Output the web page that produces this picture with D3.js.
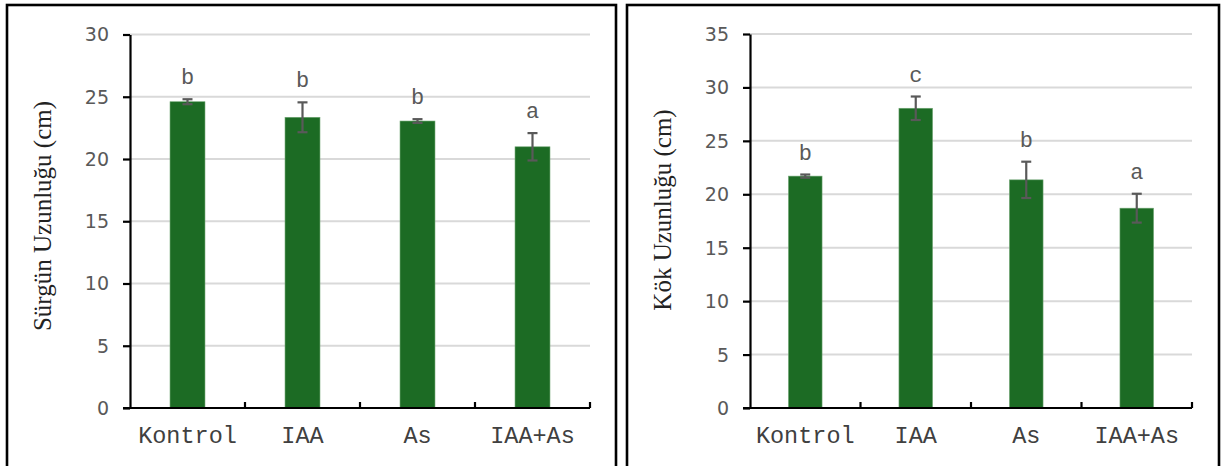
<!DOCTYPE html>
<html><head><meta charset="utf-8">
<script src="https://cdn.jsdelivr.net/npm/d3@7/dist/d3.min.js"></script>
<style>body{margin:0;background:#fff}svg{display:block}</style>
</head><body>
<svg id="c" width="1222" height="466"></svg>
<script>
const categories = ["Kontrol", "IAA", "As", "IAA+As"];
const shootValues = [24.6, 23.35, 23.05, 20.98];
const shootErrors = [0.2, 1.2, 0.15, 1.1];
const shootLetters = ["b", "b", "b", "a"];
const shootTicks = [0, 5, 10, 15, 20, 25, 30];
const rootValues = [21.7, 28.05, 21.35, 18.7];
const rootErrors = [0.15, 1.1, 1.7, 1.35];
const rootLetters = ["b", "c", "b", "a"];
const rootTicks = [0, 5, 10, 15, 20, 25, 30, 35];

const monoFont = "'Courier New', 'Nimbus Mono PS', 'Nimbus Mono L', FreeMono, Courier, 'Liberation Mono', monospace";
const svg = d3.select("#c");
svg.append("rect").attr("width", 1222).attr("height", 466).attr("fill", "#fff");

function panel(cfg) {
  const g = svg.append("g");
  g.append("rect").attr("x", cfg.box[0]).attr("y", cfg.box[1]).attr("width", cfg.box[2]).attr("height", cfg.box[3])
    .attr("fill", "none").attr("stroke", "#000").attr("stroke-width", 2.6);
  const x = d3.scaleBand().domain(categories).range([cfg.x0, cfg.x1]).paddingInner(0.696).paddingOuter(0.348);
  const y = d3.scaleLinear().domain([0, d3.max(cfg.ticks)]).range([cfg.yb, cfg.yt]);
  g.append("g").selectAll("line").data(cfg.ticks.filter(t => t > 0)).join("line")
    .attr("x1", cfg.x0).attr("x2", cfg.x1).attr("y1", d => y(d)).attr("y2", d => y(d))
    .attr("stroke", "#d9d9d9").attr("stroke-width", 2);
  g.append("g").selectAll("rect").data(categories).join("rect")
    .attr("x", d => x(d)).attr("width", x.bandwidth())
    .attr("y", (d, i) => y(cfg.values[i])).attr("height", (d, i) => y(0) - y(cfg.values[i]))
    .attr("fill", "#1c6b24").attr("stroke", "#6fa673").attr("stroke-width", 0.6);
  const eg = g.append("g").attr("stroke", "#595959").attr("stroke-width", 2.2);
  categories.forEach((c, i) => {
    const cx = x(c) + x.bandwidth() / 2;
    const yt = y(cfg.values[i] + cfg.errors[i]), yb = y(cfg.values[i] - cfg.errors[i]);
    eg.append("line").attr("x1", cx).attr("x2", cx).attr("y1", yt).attr("y2", yb);
    eg.append("line").attr("x1", cx - 5).attr("x2", cx + 5).attr("y1", yt).attr("y2", yt);
    eg.append("line").attr("x1", cx - 5).attr("x2", cx + 5).attr("y1", yb).attr("y2", yb);
    g.append("text").attr("x", cx).attr("y", yt - 15).attr("text-anchor", "middle")
      .attr("font-family", monoFont).attr("font-size", 22).attr("fill", "#595959")
      .text(cfg.letters[i]);
  });
  const ya = g.append("g").attr("transform", `translate(${cfg.x0},0)`)
    .call(d3.axisLeft(y).tickValues(cfg.ticks).tickSize(7).tickSizeOuter(0).tickPadding(14));
  ya.select(".domain").attr("stroke", "#000").attr("stroke-width", 2.2);
  ya.selectAll(".tick line").attr("stroke", "#000").attr("stroke-width", 2.2);
  ya.selectAll(".tick text").attr("font-family", "'DejaVu Sans', sans-serif").attr("font-size", 19)
    .attr("fill", "#595959").attr("dy", "0.34em");
  g.append("line").attr("x1", cfg.x0 - 7).attr("x2", cfg.x1).attr("y1", y(0)).attr("y2", y(0))
    .attr("stroke", "#000").attr("stroke-width", 2.2);
  const bounds = categories.map(c => x(c) - x.step() * x.paddingInner() / 2).slice(1).concat([cfg.x1]);
  g.append("g").selectAll("line").data(bounds).join("line")
    .attr("x1", d => d).attr("x2", d => d).attr("y1", y(0)).attr("y2", y(0) - 6)
    .attr("stroke", "#000").attr("stroke-width", 2.2);
  g.append("g").selectAll("text").data(categories).join("text")
    .attr("x", d => x(d) + x.bandwidth() / 2).attr("y", y(0) + 35).attr("text-anchor", "middle")
    .attr("font-family", monoFont).attr("font-size", 23.5).attr("fill", "#404040")
    .text(d => d);
  g.append("text").attr("transform", `translate(${cfg.titleX},${cfg.titleY}) rotate(-90)`)
    .attr("text-anchor", "middle").attr("font-family", "'Liberation Serif', serif").attr("font-size", 25)
    .attr("fill", "#222").text(cfg.title);
}

panel({box: [7, 5, 609, 470], x0: 130, x1: 590, yb: 408, yt: 34.5, ticks: shootTicks,
  values: shootValues, errors: shootErrors, letters: shootLetters,
  title: "Sürgün Uzunluğu (cm)", titleX: 51, titleY: 216});
panel({box: [627, 5, 592, 470], x0: 750, x1: 1192, yb: 408, yt: 34, ticks: rootTicks,
  values: rootValues, errors: rootErrors, letters: rootLetters,
  title: "Kök Uzunluğu (cm)", titleX: 671, titleY: 210});
</script>
</body></html>
